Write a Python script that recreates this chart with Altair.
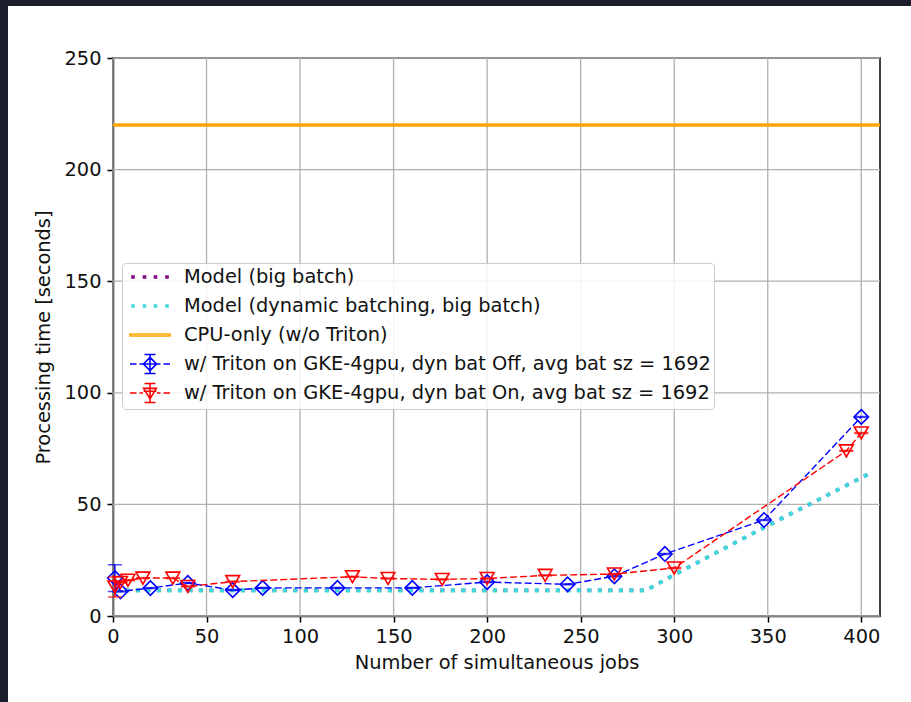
import altair as alt
import pandas as pd

# ---------------- data ----------------
series_labels = [
    "Model (big batch)",
    "Model (dynamic batching, big batch)",
    "CPU-only (w/o Triton)",
    "w/ Triton on GKE-4gpu, dyn bat Off, avg bat sz = 1692",
    "w/ Triton on GKE-4gpu, dyn bat On, avg bat sz = 1692",
]
series_colors = ["#800080", "#3fd8dc", "#ffa500", "#0000ff", "#ff0000"]

model_x = [1, 285, 300, 350, 406]
model_big_y = [11.5, 11.5, 18.5, 40.5, 64.5]
model_dyn_y = [11.5, 11.5, 18.5, 40.5, 64.5]

cpu_only_y = [220]

off_x = [1, 4, 20, 40, 64, 80, 120, 160, 200, 243, 268, 295, 348, 400]
off_y = [17.0, 11.0, 12.5, 14.8, 11.6, 12.6, 12.6, 12.6, 15.2, 14.2, 17.8, 27.8, 43.0, 89.2]
off_err = [6.0, 0.2, 0.2, 0.2, 0.2, 0.2, 0.2, 0.2, 0.2, 0.2, 0.2, 0.2, 0.2, 0.2]

on_x = [1, 4, 8, 16, 32, 40, 64, 128, 147, 176, 200, 231, 268, 300, 392, 400]
on_y = [13.0, 15.0, 16.0, 17.0, 17.0, 13.2, 15.4, 17.6, 16.8, 16.4, 16.8, 18.2, 18.8, 21.5, 74.0, 82.0]
on_err = [4.5, 0.2, 0.2, 0.2, 0.2, 0.2, 0.2, 0.2, 0.2, 0.2, 0.2, 0.2, 0.2, 0.2, 0.2, 0.2]

x_ticks = [0, 50, 100, 150, 200, 250, 300, 350, 400]
y_ticks = [0, 50, 100, 150, 200, 250]

x_title = "Number of simultaneous jobs"
y_title = "Processing time [seconds]"

# legend symbols (custom SVG paths; 1 unit = 10 px with symbolSize 400)
_pad = "M0,-0.95M0,0.95"
_dots = ("M-1.8,-0.1h0.2v0.2h-0.2Z M-0.65,-0.1h0.2v0.2h-0.2Z "
         "M0.45,-0.1h0.2v0.2h-0.2Z M1.6,-0.1h0.2v0.2h-0.2Z")
legend_paths = [
    _pad + _dots,
    _pad + _dots,
    _pad + "M-2,-0.1H2V0.1H-2Z",
    _pad + "M-2,0H-1.35M-1.05,0H-0.7M0.7,0H1.05M1.35,0H2 "
           "M0,-0.66L0.66,0L0,0.66L-0.66,0Z M0,-0.95V0.95 M-0.55,-0.95H0.55 M-0.55,0.95H0.55 M-0.66,0H0.66",
    _pad + "M-2,0H-1.35M-1.05,0H-0.7M0.7,0H1.05M1.35,0H2 "
           "M-0.64,-0.46L0.64,-0.46L0,0.58Z M0,-0.95V0.95 M-0.55,-0.95H0.55 M-0.55,0.95H0.55 M-0.64,-0.18H0.64",
]

# ---------------- tables ----------------
model_big = pd.DataFrame({"x": model_x, "y": model_big_y})
model_dyn = pd.DataFrame({"x": model_x, "y": model_dyn_y})
cpu = pd.DataFrame({"y": cpu_only_y})
off = pd.DataFrame({"x": off_x, "y": off_y, "err": off_err})
off["lo"] = off["y"] - off["err"]
off["hi"] = off["y"] + off["err"]
on = pd.DataFrame({"x": on_x, "y": on_y, "err": on_err})
on["lo"] = on["y"] - on["err"]
on["hi"] = on["y"] + on["err"]
xgrid = pd.DataFrame({"x": x_ticks})
ygrid = pd.DataFrame({"y": y_ticks})
leg = pd.DataFrame({"series": series_labels})

XS = alt.Scale(domain=[0, 410], nice=False, zero=False)
YS = alt.Scale(domain=[0, 250], nice=False)


def X(field="x"):
    return alt.X(f"{field}:Q", scale=XS, title=x_title,
                 axis=alt.Axis(values=x_ticks, grid=False, labelFlush=False))


def Y(field="y"):
    return alt.Y(f"{field}:Q", scale=YS, title=y_title,
                 axis=alt.Axis(values=y_ticks, grid=False, labelFlush=False))


GRID = "#b0b0b0"

# screenshot frame strips (decoration)
frame_left = alt.Chart(leg).mark_rect(color="#1b1f2b", clip=False).encode(
    x=alt.value(-113), x2=alt.value(-105), y=alt.value(-58), y2=alt.value(644))
frame_top = alt.Chart(leg).mark_rect(color="#1b1f2b", clip=False).encode(
    x=alt.value(-113), x2=alt.value(798), y=alt.value(-58), y2=alt.value(-52))

grid_x = alt.Chart(xgrid).mark_rule(color=GRID, strokeWidth=1.3).encode(x=X())
grid_y = alt.Chart(ygrid).mark_rule(color=GRID, strokeWidth=1.3).encode(y=Y())

dot = [4, 6.5]
l_big = alt.Chart(model_big).mark_line(color=series_colors[0], strokeWidth=3, strokeDash=dot,
                                       strokeCap="butt").encode(x=X(), y=Y())
l_dyn = alt.Chart(model_dyn).mark_line(color=series_colors[1], strokeWidth=4.2, strokeDash=dot,
                                       strokeCap="butt").encode(x=X(), y=Y())
l_cpu = alt.Chart(cpu).mark_rule(color=series_colors[2], strokeWidth=3.5).encode(y=Y())


def series_layers(df, color, shape, size):
    line = alt.Chart(df).mark_line(color=color, strokeWidth=1.4, strokeDash=[7, 3]).encode(x=X(), y=Y())
    bar = alt.Chart(df).mark_rule(color=color, strokeWidth=1.5).encode(x=X(), y=Y("lo"), y2="hi")
    cap_lo = alt.Chart(df).mark_tick(color=color, orient="horizontal", size=14, thickness=1.5).encode(
        x=X(), y=Y("lo"))
    cap_hi = alt.Chart(df).mark_tick(color=color, orient="horizontal", size=14, thickness=1.5).encode(
        x=X(), y=Y("hi"))
    pts = alt.Chart(df).mark_point(color=color, shape=shape, filled=False, size=size,
                                   strokeWidth=1.6, opacity=1).encode(x=X(), y=Y())
    return [line, bar, cap_lo, cap_hi, pts]


legend_def = alt.Legend(
    title=None, orient="none", legendX=9, legendY=205,
    padding=3, fillColor="rgba(255,255,255,0.85)", strokeColor="#cccccc",
    cornerRadius=4, labelFont="DejaVu Sans", labelFontSize=19.4, labelColor="#111111",
    labelLimit=1000, symbolSize=400, symbolStrokeWidth=1.6, rowPadding=3,
    labelOffset=23, symbolOffset=14,
)
legend_layer = alt.Chart(leg).transform_filter("false").mark_point(filled=False, opacity=1).encode(
    color=alt.Color("series:N", scale=alt.Scale(domain=series_labels, range=series_colors),
                    legend=legend_def, sort=series_labels),
    shape=alt.Shape("series:N", scale=alt.Scale(domain=series_labels, range=legend_paths),
                    legend=legend_def, sort=series_labels),
)

layers = [frame_left, frame_top, grid_x, grid_y, l_big, l_dyn, l_cpu]
layers += series_layers(off, series_colors[3], "diamond", 210)
layers += series_layers(on, series_colors[4], "triangle-down", 190)
layers += [legend_layer]

chart = alt.layer(*layers).properties(
    width=767, height=558,
    padding={"left": 113, "top": 58, "right": 31, "bottom": 86},
    autosize="none", background="white",
).configure_view(
    stroke="black", strokeWidth=1.5,
).configure_axis(
    labelFont="DejaVu Sans", titleFont="DejaVu Sans", labelFontSize=19.4, titleFontSize=19.4,
    titleFontWeight="normal", labelColor="#111111", titleColor="#111111",
    tickSize=6, tickWidth=1.5, tickColor="black", domainColor="black", domainWidth=1.5,
    labelPadding=5,
).configure_axisX(titlePadding=8).configure_axisY(titlePadding=10, labelPadding=6)

chart.save("out.html", embed_options={"renderer": "svg", "actions": False})
